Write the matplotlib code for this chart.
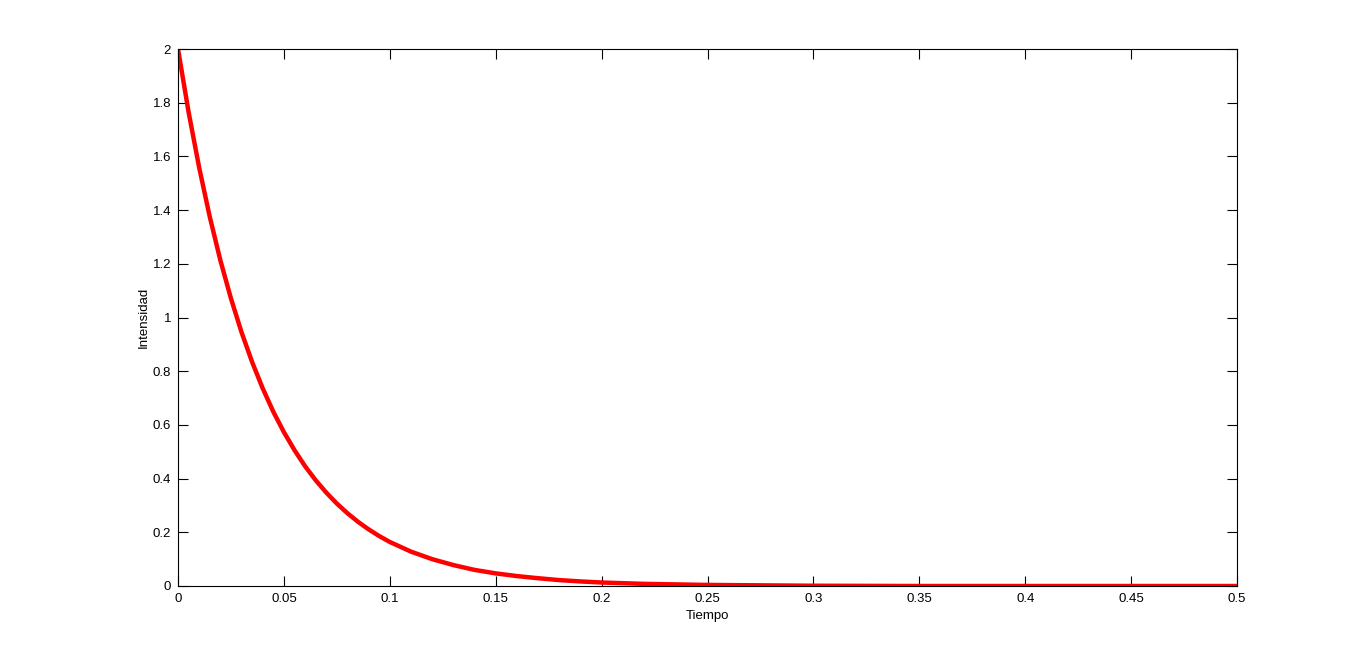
import matplotlib
matplotlib.use("Agg")
import matplotlib.pyplot as plt

# Valores (tiempo, intensidad)
tiempo = [0.0, 0.005, 0.01, 0.015, 0.02, 0.025, 0.03, 0.035, 0.04, 0.045,
          0.05, 0.055, 0.06, 0.065, 0.07, 0.075, 0.08, 0.085, 0.09, 0.095,
          0.10, 0.11, 0.12, 0.13, 0.14, 0.15, 0.16, 0.17, 0.18, 0.19,
          0.20, 0.22, 0.25, 0.30, 0.35, 0.40, 0.45, 0.50]
intensidad = [2.000, 1.765, 1.558, 1.375, 1.213, 1.071, 0.945, 0.834, 0.736, 0.649,
              0.573, 0.506, 0.446, 0.394, 0.348, 0.307, 0.271, 0.239, 0.211, 0.186,
              0.164, 0.128, 0.100, 0.078, 0.060, 0.047, 0.037, 0.029, 0.022, 0.017,
              0.013, 0.008, 0.004, 0.001, 0.0, 0.0, 0.0, 0.0]

xticks = [0, 0.05, 0.1, 0.15, 0.2, 0.25, 0.3, 0.35, 0.4, 0.45, 0.5]
xticklabels = ["0", "0.05", "0.1", "0.15", "0.2", "0.25", "0.3", "0.35", "0.4", "0.45", "0.5"]
yticks = [0, 0.2, 0.4, 0.6, 0.8, 1, 1.2, 1.4, 1.6, 1.8, 2]
yticklabels = ["0", "0.2", "0.4", "0.6", "0.8", "1", "1.2", "1.4", "1.6", "1.8", "2"]

plt.rcParams["font.family"] = ["Liberation Sans", "DejaVu Sans"]

fig = plt.figure(figsize=(13.67, 6.58), dpi=100)
ax = fig.add_axes([178 / 1367, 72 / 658, 1059 / 1367, 537 / 658])

ax.plot(tiempo, intensidad, color="#ff0000", linewidth=3.2, solid_joinstyle="round")

ax.set_xlim(0, 0.5)
ax.set_ylim(0, 2)
ax.set_xticks(xticks)
ax.set_xticklabels(xticklabels)
ax.set_yticks(yticks)
ax.set_yticklabels(yticklabels)
ax.tick_params(direction="in", length=7, width=0.8, top=True, right=True,
               labelsize=9.5, pad=5)
for s in ax.spines.values():
    s.set_linewidth(0.8)

ax.set_xlabel("Tiempo", fontsize=9.5, labelpad=4)
ax.set_ylabel("Intensidad", fontsize=9.5, labelpad=2)

fig.savefig("out.png", dpi=100)
